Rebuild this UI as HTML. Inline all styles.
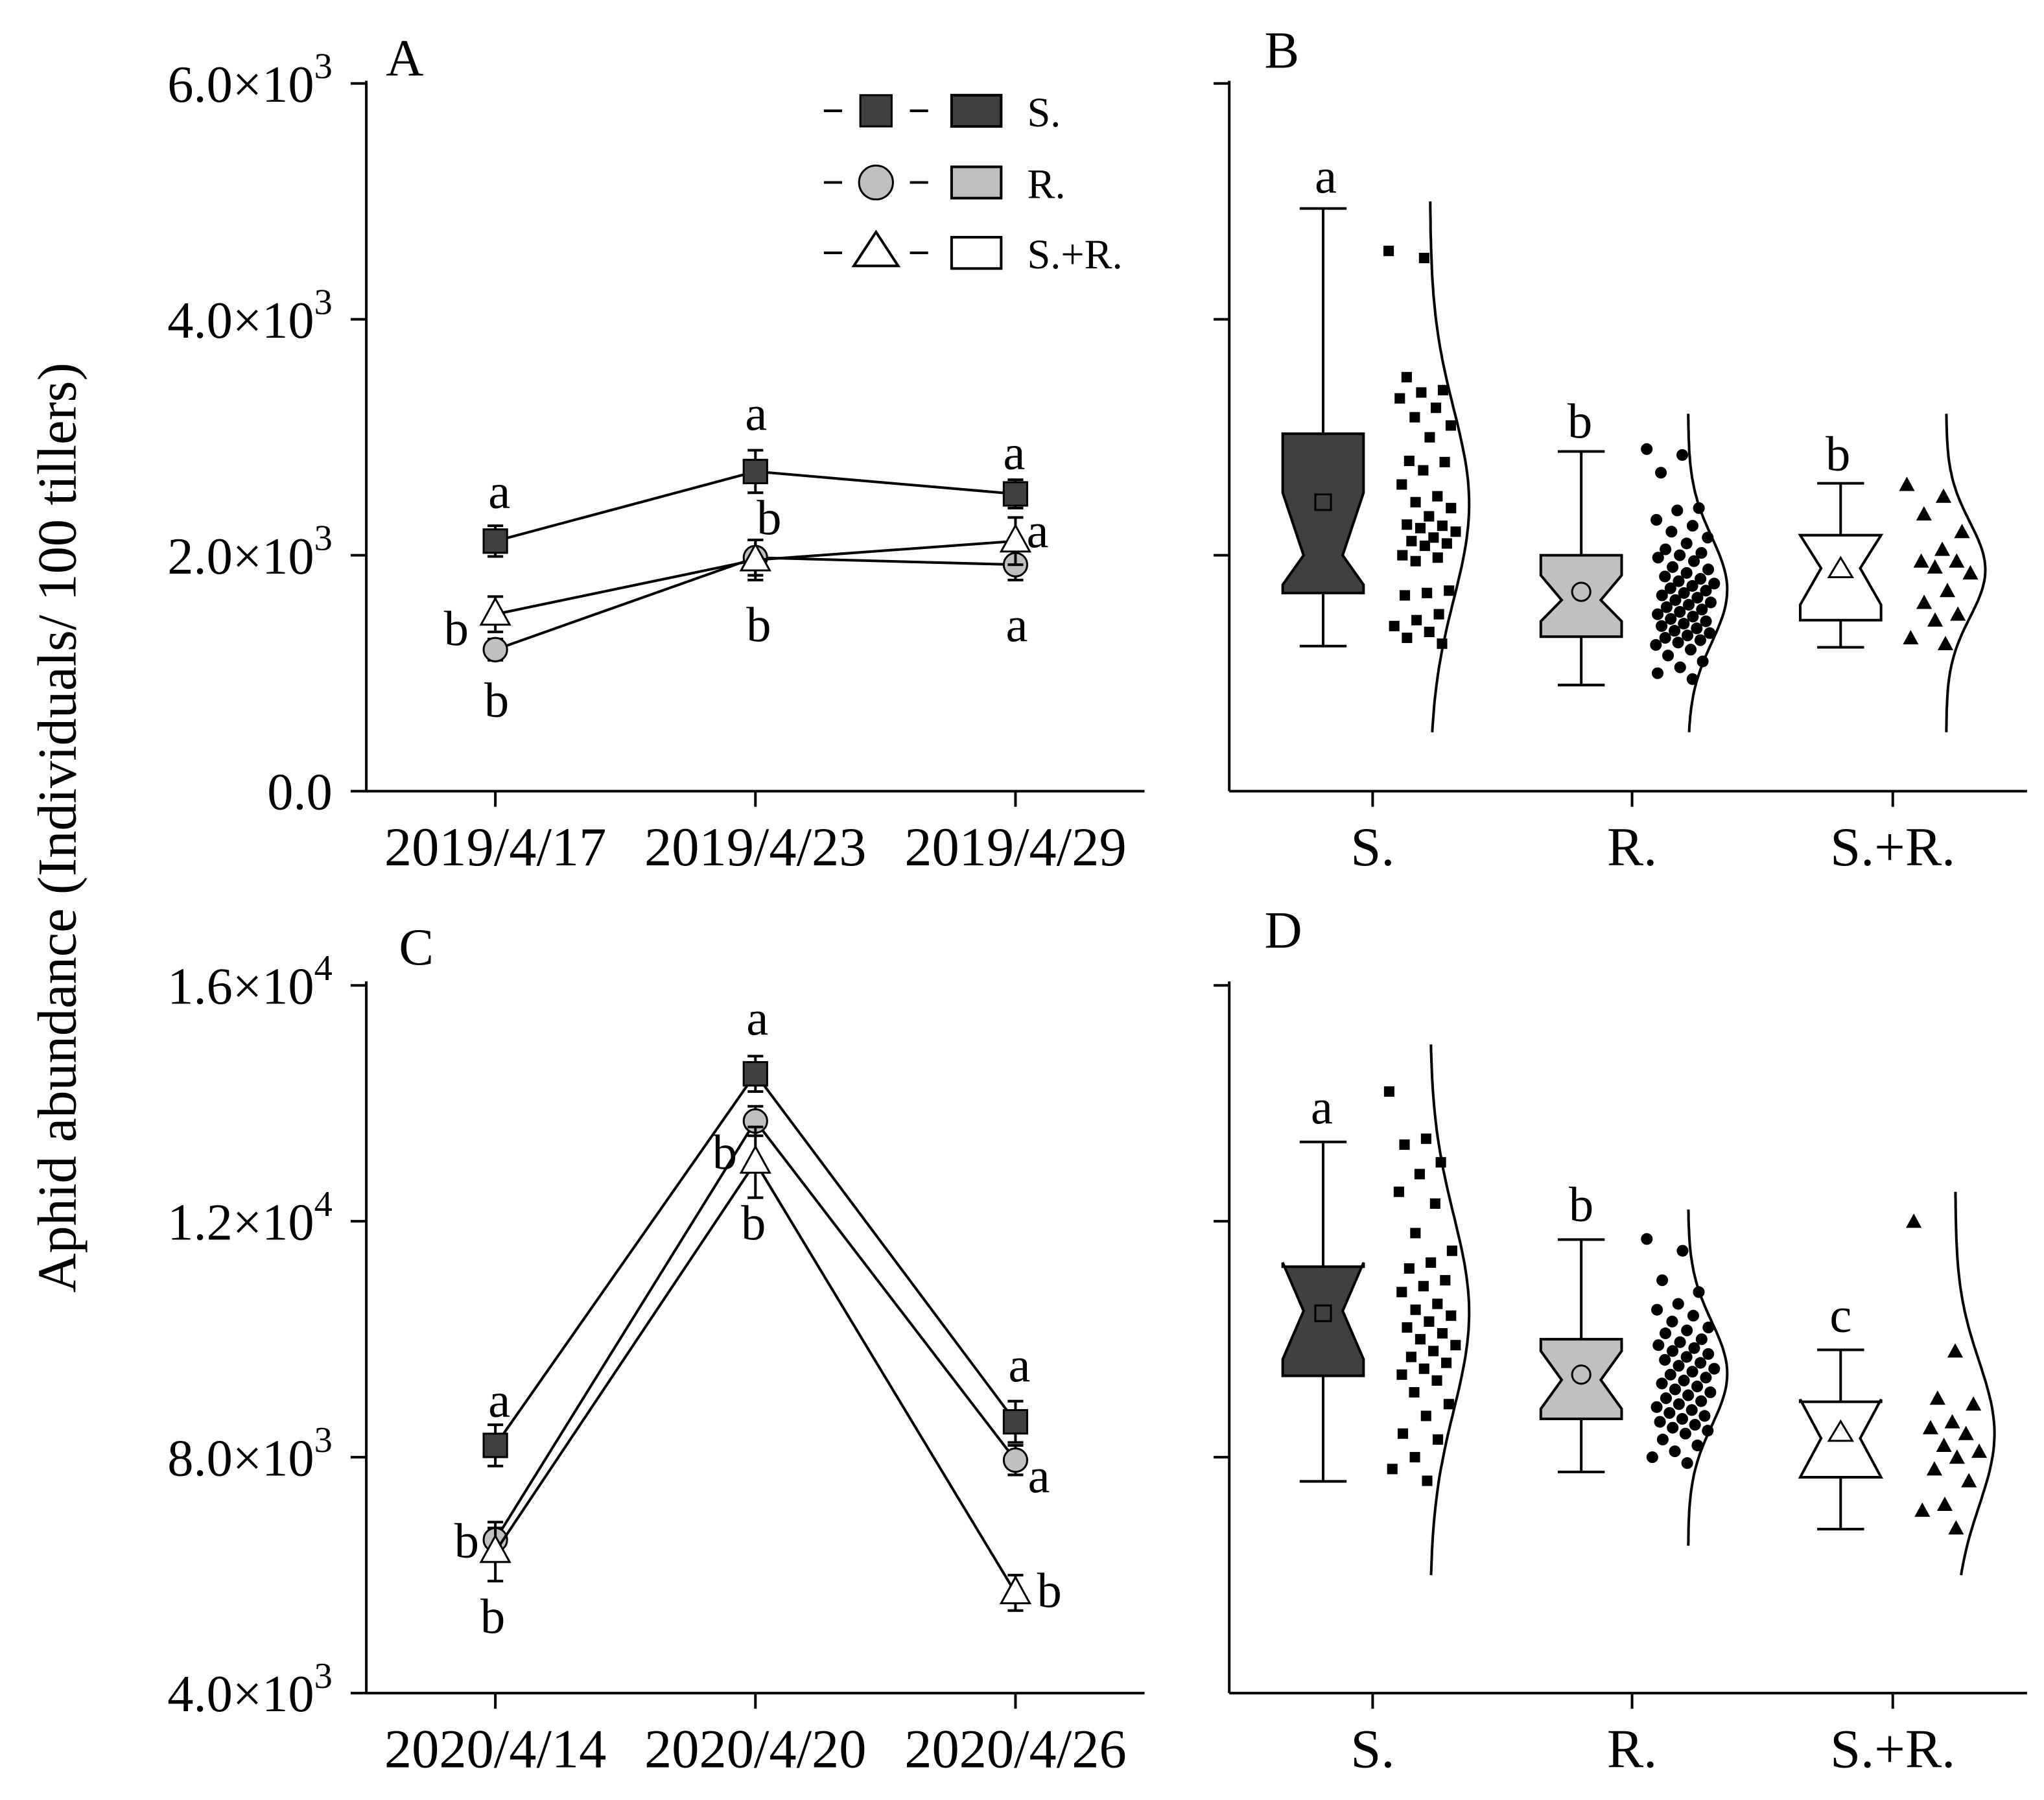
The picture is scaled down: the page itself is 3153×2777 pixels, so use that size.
<!DOCTYPE html>
<html><head><meta charset="utf-8"><style>html,body{margin:0;padding:0;background:#fff}svg{display:block}</style></head>
<body>
<svg id="fig" width="3153" height="2777" viewBox="0 0 1568 1381" xmlns="http://www.w3.org/2000/svg" font-family="'Liberation Serif', serif">
<rect width="1568" height="1381" fill="#fff"/>
<g id="root"></g>
</svg>
<script>
// ---------- DATA ----------
const datesA = ["2019/4/17","2019/4/23","2019/4/29"];
const datesC = ["2020/4/14","2020/4/20","2020/4/26"];
const groups = ["S.","R.","S.+R."];
const aS = [2120,2710,2520], aR = [1200,1980,1920], aSR = [1500,1960,2120];
const aSerr = [130,180,120], aRerr = [90,150,130], aSRerr = [150,170,200];
const cS = [8200,14500,8600], cR = [6600,13700,7950], cSR = [6400,13000,5700];
const cSerr = [350,300,350], cRerr = [200,250,250], cSRerr = [500,600,300];
const ticksA = [0,2000,4000,6000], tickLabelsA = ["0.0","2.0×10","4.0×10","6.0×10"], tickExpA = ["","3","3","3"];
const ticksC = [4000,8000,12000,16000], tickLabelsC = ["4.0×10","8.0×10","1.2×10","1.6×10"], tickExpC = ["3","3","4","4"];
// box stats: [lowWhisker, Q1, notchLow, median, notchHigh, Q3, highWhisker, mean]
const boxB_S = [1230,1680,1750,2000,2530,3030,4940,2450];
const boxB_R = [900,1310,1440,1620,1830,2000,2880,1690];
const boxB_SR = [1220,1450,1580,1890,2170,2170,2610,1880];
const boxD_S = [7590,9380,9660,10480,11300,11230,13345,10440];
const boxD_R = [7750,8650,8820,9310,9800,10000,11690,9400];
const boxD_SR = [6780,7660,7660,8320,8980,8940,9820,8410];
const ptsB_S = [4580,4520,3510,3400,3380,3330,3250,3170,3100,3000,2800,2790,2720,2600,2500,2450,2400,2330,2260,2250,2230,2200,2150,2120,2100,2080,2000,1980,1950,1700,1680,1660,1500,1450,1400,1350,1300,1250];
const ptsB_R = [2900,2850,2700,2400,2380,2300,2250,2200,2150,2100,2050,2020,2000,1980,1950,1900,1880,1850,1820,1800,1780,1760,1740,1720,1700,1680,1660,1640,1620,1600,1580,1560,1540,1520,1500,1480,1460,1440,1420,1400,1380,1360,1340,1320,1300,1280,1260,1240,1200,1150,1100,1050,1000,950];
const ptsB_SR = [2600,2500,2350,2200,2050,1950,1950,1900,1850,1700,1600,1500,1450,1300,1250];
const ptsD_S = [14200,13400,13300,13000,12800,12500,12300,11800,11500,11300,11200,11000,10900,10800,10600,10500,10400,10300,10200,10100,10000,9900,9800,9700,9600,9500,9400,9300,9100,8900,8700,8400,8300,8000,7800,7600];
const ptsD_R = [11700,11500,11000,10800,10600,10500,10400,10300,10200,10150,10100,10000,9950,9900,9850,9800,9750,9700,9650,9600,9550,9500,9450,9400,9350,9300,9250,9200,9150,9100,9050,9000,8950,8900,8850,8800,8750,8700,8650,8600,8550,8500,8450,8400,8300,8200,8100,8000,7900];
const ptsD_SR = [12000,9800,9000,8900,8600,8500,8400,8200,8100,8000,7800,7600,7200,7100,6800];

// ---------- HELPERS ----------
const NS="http://www.w3.org/2000/svg";
const root=document.getElementById('root');
function mk(tag,attrs,parent){const e=document.createElementNS(NS,tag);for(const k in attrs)e.setAttribute(k,attrs[k]);(parent||root).appendChild(e);return e;}
function txt(x,y,s,size,anchor,parent){const t=mk('text',{x:x,y:y,'font-size':size,'text-anchor':anchor||'middle',fill:'#000'},parent);t.textContent=s;return t;}
const yA=v=>607-v*181/2000;
const yC=v=>1299-(v-4000)*181/4000;
const xDate=i=>380+i*199.5;
const LW=2;

function axes(x0,x1,ybase,ytop,yf,ticks,labels,exps,name,withLabels){
  const g=mk('g',{});
  
  
  mk('line',{x1:x0,y1:ytop-2,x2:x0,y2:ybase,stroke:'#000','stroke-width':LW},g);
  mk('line',{x1:x0,y1:ybase,x2:x1,y2:ybase,stroke:'#000','stroke-width':LW},g);
  ticks.forEach((t,i)=>{
    const y=yf(t);
    mk('line',{x1:x0-12,y1:y,x2:x0,y2:y,stroke:'#000','stroke-width':LW},g);
    if(withLabels){
      const tx=txt(x0-26,y+14,labels[i],40,'end',g);
      if(exps[i]){const ts=mk('tspan',{dy:-18,'font-size':28},tx);ts.textContent=exps[i];}
    }
  });
  return g;
}
function marker(type,x,y,fill,parent){
  if(type==='sq') mk('rect',{x:x-9,y:y-9,width:18,height:18,fill:fill,stroke:'#000','stroke-width':1.5},parent);
  else if(type==='ci') mk('circle',{cx:x,cy:y,r:9,fill:fill,stroke:'#000','stroke-width':1.5},parent);
  else mk('polygon',{points:`${x},${y-12} ${x-11},${y+8} ${x+11},${y+8}`,fill:fill,stroke:'#000','stroke-width':1.5},parent);
}
function lineSeries(vals,errs,yf,type,fill,name){
  const g=mk('g',{});
  
  
  mk('polyline',{points:vals.map((v,i)=>xDate(i)+','+yf(v)).join(' '),fill:'none',stroke:'#000','stroke-width':2},g);
  vals.forEach((v,i)=>{
    const x=xDate(i);
    mk('line',{x1:x,y1:yf(v+errs[i]),x2:x,y2:yf(v-errs[i]),stroke:'#000','stroke-width':2},g);
    mk('line',{x1:x-6,y1:yf(v+errs[i]),x2:x+6,y2:yf(v+errs[i]),stroke:'#000','stroke-width':2},g);
    mk('line',{x1:x-6,y1:yf(v-errs[i]),x2:x+6,y2:yf(v-errs[i]),stroke:'#000','stroke-width':2},g);
    marker(type,x,yf(v),fill,g);
  });
}
function box(cx,st,yf,fill,mtype,name){
  const g=mk('g',{});
  
  
  const [lw,q1,nl,md,nh,q3,hw,mn]=st;
  const hw2=31, nw=15;
  mk('line',{x1:cx,y1:yf(hw),x2:cx,y2:yf(q3),stroke:'#000','stroke-width':LW},g);
  mk('line',{x1:cx,y1:yf(q1),x2:cx,y2:yf(lw),stroke:'#000','stroke-width':LW},g);
  mk('line',{x1:cx-18,y1:yf(hw),x2:cx+18,y2:yf(hw),stroke:'#000','stroke-width':LW},g);
  mk('line',{x1:cx-18,y1:yf(lw),x2:cx+18,y2:yf(lw),stroke:'#000','stroke-width':LW},g);
  const p=[[cx-hw2,yf(q3)],[cx+hw2,yf(q3)],[cx+hw2,yf(nh)],[cx+nw,yf(md)],[cx+hw2,yf(nl)],[cx+hw2,yf(q1)],[cx-hw2,yf(q1)],[cx-hw2,yf(nl)],[cx-nw,yf(md)],[cx-hw2,yf(nh)]];
  mk('polygon',{points:p.map(a=>a.join(',')).join(' '),fill:fill,stroke:'#000','stroke-width':LW},g);
  if(mtype==='sq') mk('rect',{x:cx-6,y:yf(mn)-6,width:12,height:12,fill:'none',stroke:'#000','stroke-width':1.5},g);
  else if(mtype==='ci') mk('circle',{cx:cx,cy:yf(mn),r:7,fill:'none',stroke:'#000','stroke-width':1.5},g);
  else mk('polygon',{points:`${cx},${yf(mn)-9} ${cx-9},${yf(mn)+6} ${cx+9},${yf(mn)+6}`,fill:'#fff',stroke:'#000','stroke-width':1.5},g);
}
function scatterViolin(base,pts,yf,type,name,vmin,vmax){
  const g=mk('g',{});
  
  
  const m=pts.reduce((a,b)=>a+b,0)/pts.length;
  const sd=Math.sqrt(pts.reduce((a,b)=>a+(b-m)*(b-m),0)/pts.length);
  const pk=30; const path=[];
  for(let k=0;k<=80;k++){const v=vmin+(vmax-vmin)*k/80;path.push((base+pk*Math.exp(-(v-m)*(v-m)/(2*sd*sd))).toFixed(1)+','+yf(v).toFixed(1));}
  mk('polyline',{points:path.join(' '),fill:'none',stroke:'#000','stroke-width':2},g);
  pts.forEach((v,i)=>{
    const dens=Math.exp(-(v-m)*(v-m)/(2*sd*sd));
    const jit=((i*0.6180339)%1);
    const x=base-32+jit*44+pk*dens*0.3;
    const y=yf(v);
    if(type==='sq') mk('rect',{x:x-4,y:y-4,width:8,height:8,fill:'#000'},g);
    else if(type==='ci') mk('circle',{cx:x,cy:y,r:4.5,fill:'#000'},g);
    else mk('polygon',{points:`${x},${y-6} ${x-6},${y+5} ${x+6},${y+5}`,fill:'#000'},g);
  });
}

// ---------- PANEL A ----------
axes(281,878,607,64,yA,ticksA,tickLabelsA,tickExpA,'panel-a',true);
datesA.forEach((d,i)=>{mk('line',{x1:xDate(i),y1:607,x2:xDate(i),y2:619,stroke:'#000','stroke-width':LW});txt(xDate(i),664,d,42);});
lineSeries(aS,aSerr,yA,'sq','#404040','series-a-s');
lineSeries(aR,aRerr,yA,'ci','#c0c0c0','series-a-r');
lineSeries(aSR,aSRerr,yA,'tr','#fff','series-a-sr');
txt(296,58,'A',40,'start');
[[383,390,'a'],[350,495,'b'],[381,550,'b'],[580,330,'a'],[590,410,'b'],[582,492,'b'],[778,360,'a'],[796,420,'a'],[780,492,'a']].forEach(a=>txt(a[0],a[1],a[2],38));
// legend
const leg=mk('g',{});
[['sq','#404040','S.',85],['ci','#c0c0c0','R.',140],['tr','#fff','S.+R.',194]].forEach(l=>{
  const e=mk('g',{},leg);
  mk('line',{x1:632,y1:l[3],x2:646,y2:l[3],stroke:'#000','stroke-width':2},e);
  mk('line',{x1:698,y1:l[3],x2:712,y2:l[3],stroke:'#000','stroke-width':2},e);
  if(l[0]==='sq') mk('rect',{x:660,y:l[3]-12,width:24,height:24,fill:l[1],stroke:'#000','stroke-width':1.5},e);
  else if(l[0]==='ci') mk('circle',{cx:672,cy:l[3],r:13,fill:l[1],stroke:'#000','stroke-width':1.5},e);
  else mk('polygon',{points:`672,${l[3]-16} 655,${l[3]+10} 689,${l[3]+10}`,fill:'#fff',stroke:'#000','stroke-width':2},e);
  mk('rect',{x:730,y:l[3]-12,width:38,height:24,fill:l[1],stroke:'#000','stroke-width':2},e);
  txt(788,l[3]+12,l[2],32,'start',e);
});

// ---------- PANEL C ----------
axes(281,878,1299,755,yC,ticksC,tickLabelsC,tickExpC,'panel-c',true);
datesC.forEach((d,i)=>{mk('line',{x1:xDate(i),y1:1299,x2:xDate(i),y2:1311,stroke:'#000','stroke-width':LW});txt(xDate(i),1356,d,42);});
lineSeries(cS,cSerr,yC,'sq','#404040','series-c-s');
lineSeries(cR,cRerr,yC,'ci','#c0c0c0','series-c-r');
lineSeries(cSR,cSRerr,yC,'tr','#fff','series-c-sr');
txt(306,740,'C',40,'start');
[[383,1087,'a'],[358,1195,'b'],[378,1253,'b'],[581,794,'a'],[556,897,'b'],[578,951,'b'],[782,1060,'a'],[797,1145,'a'],[805,1233,'b']].forEach(a=>txt(a[0],a[1],a[2],38));

// ---------- PANEL B ----------
axes(943,1555,607,64,yA,ticksA.slice(1),[], [],'panel-b',false);
const bx=[1053,1252,1452];
groups.forEach((g,i)=>{mk('line',{x1:bx[i],y1:607,x2:bx[i],y2:619,stroke:'#000','stroke-width':LW});txt(bx[i],664,g,42);});
txt(970,52,'B',40,'start');
box(1015,boxB_S,yA,'#404040','sq','box-b-s');
box(1213,boxB_R,yA,'#c0c0c0','ci','box-b-r');
box(1412,boxB_SR,yA,'#fff','tr','box-b-sr');
scatterViolin(1097,ptsB_S,yA,'sq','violin-b-s',500,5000);
scatterViolin(1295,ptsB_R,yA,'ci','violin-b-r',500,3200);
scatterViolin(1493,ptsB_SR,yA,'tr','violin-b-sr',500,3200);
txt(1017,148,'a',38);txt(1212,336,'b',38);txt(1410,361,'b',38);

// ---------- PANEL D ----------
axes(943,1555,1299,755,yC,ticksC.slice(1),[],[],'panel-d',false);
groups.forEach((g,i)=>{mk('line',{x1:bx[i],y1:1299,x2:bx[i],y2:1311,stroke:'#000','stroke-width':LW});txt(bx[i],1356,g,42);});
txt(970,727,'D',40,'start');
box(1015,boxD_S,yC,'#404040','sq','box-d-s');
box(1213,boxD_R,yC,'#c0c0c0','ci','box-d-r');
box(1412,boxD_SR,yC,'#fff','tr','box-d-sr');
scatterViolin(1097,ptsD_S,yC,'sq','violin-d-s',6000,15000);
scatterViolin(1295,ptsD_R,yC,'ci','violin-d-r',6500,12200);
scatterViolin(1500,ptsD_SR,yC,'tr','violin-d-sr',6000,12500);
txt(1014,862,'a',38);txt(1213,937,'b',38);txt(1412,1022,'c',38);

// y-axis title
const yt=txt(0,0,'Aphid abundance (Individuals/ 100 tillers)',42);
yt.setAttribute('transform','translate(58,635) rotate(-90)');


</script>
</body></html>
